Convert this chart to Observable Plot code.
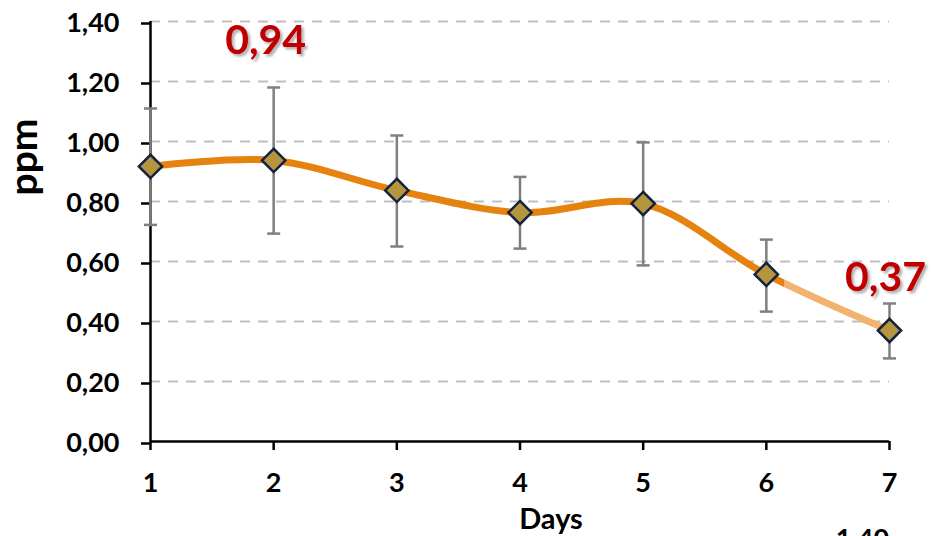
<!DOCTYPE html>
<html><head><meta charset="utf-8">
<script src="https://cdn.jsdelivr.net/npm/d3@7"></script>
<script src="https://cdn.jsdelivr.net/npm/@observablehq/plot@0.6"></script>
<style>
html,body{margin:0;padding:0;background:#fff;overflow:hidden}
#chart svg{display:block}
</style></head><body><div id="chart"></div>
<script>
// ---- data ----
const days = [1, 2, 3, 4, 5, 6, 7];
const means = [0.917, 0.937, 0.837, 0.763, 0.793, 0.557, 0.370];
const errLow = [0.722, 0.693, 0.650, 0.643, 0.587, 0.433, 0.277];
const errHigh = [1.110, 1.180, 1.020, 0.882, 0.997, 0.673, 0.460];
const yTicks = [0, 0.2, 0.4, 0.6, 0.8, 1.0, 1.2, 1.4];
const xTicks = [1, 2, 3, 4, 5, 6, 7];
const labelDays = [2, 7];
const fadeFromDay = 6;
const strayTick = ["1,40"];

const rows = days.map((d, i) => ({day: d, mean: means[i], lo: errLow[i], hi: errHigh[i]}));
const fmt = v => v.toFixed(2).replace(".", ",");
const FONT = "Lato, 'Open Sans', sans-serif";
const DARK = "#E6820E", LIGHT = "#F2B36E";

const capSymbol = {draw(ctx, size) { const r = Math.sqrt(size / Math.PI); ctx.moveTo(-r, 0); ctx.lineTo(r, 0); }};

// defs: gradient that turns the line pale after the day-6 marker, and a text shadow filter
const defsMark = (index, scales, values, dims) => {
  const W = (dims && dims.width) || 931;
  let x0 = 783;
  if (scales && typeof scales.x === "function") x0 = scales.x(fadeFromDay) + 18;
  const ns = "http://www.w3.org/2000/svg";
  const defs = document.createElementNS(ns, "defs");
  const g = document.createElementNS(ns, "linearGradient");
  g.setAttribute("id", "fadeGrad");
  g.setAttribute("gradientUnits", "userSpaceOnUse");
  g.setAttribute("x1", 0); g.setAttribute("y1", 0); g.setAttribute("x2", W); g.setAttribute("y2", 0);
  [DARK, LIGHT].forEach(c => {
    const s = document.createElementNS(ns, "stop");
    s.setAttribute("offset", x0 / W);
    s.setAttribute("stop-color", c);
    g.appendChild(s);
  });
  defs.appendChild(g);
  const f = document.createElementNS(ns, "filter");
  f.setAttribute("id", "txtShadow");
  f.setAttribute("x", "-20%"); f.setAttribute("y", "-30%");
  f.setAttribute("width", "150%"); f.setAttribute("height", "170%");
  const ds = document.createElementNS(ns, "feDropShadow");
  ds.setAttribute("dx", 2.5); ds.setAttribute("dy", 2.5); ds.setAttribute("stdDeviation", 1.2);
  ds.setAttribute("flood-color", "#000"); ds.setAttribute("flood-opacity", 0.3);
  f.appendChild(ds);
  defs.appendChild(f);
  return defs;
};

const labelMarks = [[2, -8, -106], [7, -4, -40]].map(([day, dx, dy]) =>
  Plot.text(rows.filter(r => r.day === day && labelDays.includes(r.day)), {
    x: "day", y: "mean", text: d => fmt(d.mean), fontSize: 41, fontWeight: "bold", fontFamily: FONT,
    lineAnchor: "bottom", fill: "#C00000", dx, dy
  }));

const plot = Plot.plot({
  width: 931, height: 536,
  marginLeft: 150, marginRight: 42, marginTop: 21, marginBottom: 95,
  style: {fontFamily: FONT, background: "#fff", color: "#000"},
  x: {domain: [1, 7]},
  y: {domain: [0, 1.4]},
  marks: [
    defsMark,
    Plot.gridY(yTicks.filter(v => v > 0), {stroke: "#BFBFBF", strokeOpacity: 1, strokeWidth: 2, strokeDasharray: "10,8"}),
    Plot.ruleX([1], {stroke: "#000", strokeWidth: 2.5}),
    Plot.ruleY([0], {stroke: "#000", strokeWidth: 2.5}),
    Plot.axisY(yTicks, {tickFormat: fmt, tickSize: 9, tickPadding: 22, fontSize: 27, fontWeight: "bold", fontFamily: FONT, stroke: "#000", strokeWidth: 2.5, dy: 2, label: null}),
    Plot.axisX(xTicks, {tickFormat: d => String(d), tickSize: 9, tickPadding: 22, fontSize: 27, fontWeight: "bold", fontFamily: FONT, stroke: "#000", strokeWidth: 2.5, label: null}),
    Plot.ruleX(rows, {x: "day", y1: "lo", y2: "hi", stroke: "#7F7F7F", strokeWidth: 2.5}),
    Plot.dot(rows, {x: "day", y: "lo", symbol: capSymbol, r: 6.5, fill: "none", stroke: "#7F7F7F", strokeWidth: 2.5}),
    Plot.dot(rows, {x: "day", y: "hi", symbol: capSymbol, r: 6.5, fill: "none", stroke: "#7F7F7F", strokeWidth: 2.5}),
    Plot.line(rows, {x: "day", y: "mean", curve: "catmull-rom", stroke: "url(#fadeGrad)", strokeWidth: 7}),
    Plot.dot(rows, {x: "day", y: "mean", symbol: "diamond2", r: 10.5, fill: "#B5963F", stroke: "#13233F", strokeWidth: 2.5}),
    ...labelMarks,
    Plot.text(["ppm"], {frameAnchor: "left", rotate: -90, fontSize: 39, fontWeight: "bold", fontFamily: FONT, fill: "#000", dx: -126, dy: -36}),
    Plot.text(["Days"], {frameAnchor: "bottom", lineAnchor: "bottom", fontSize: 29, fontWeight: "bold", fontFamily: FONT, fill: "#000", dx: 31, dy: 87}),
    Plot.text(strayTick, {frameAnchor: "bottom-right", lineAnchor: "bottom", textAnchor: "middle", fontSize: 27, fontWeight: "bold", fontFamily: FONT, fill: "#000", dx: -27, dy: 106})
  ]
});

// shadow on the red value labels
const labelTexts = rows.filter(r => labelDays.includes(r.day)).map(r => fmt(r.mean));
d3.select(plot).selectAll("text")
  .filter(function() { return labelTexts.includes(this.textContent) && this.closest("g") && this.closest("g").getAttribute("fill") === "#C00000"; })
  .attr("filter", "url(#txtShadow)");

document.getElementById("chart").appendChild(plot);
</script></body></html>
